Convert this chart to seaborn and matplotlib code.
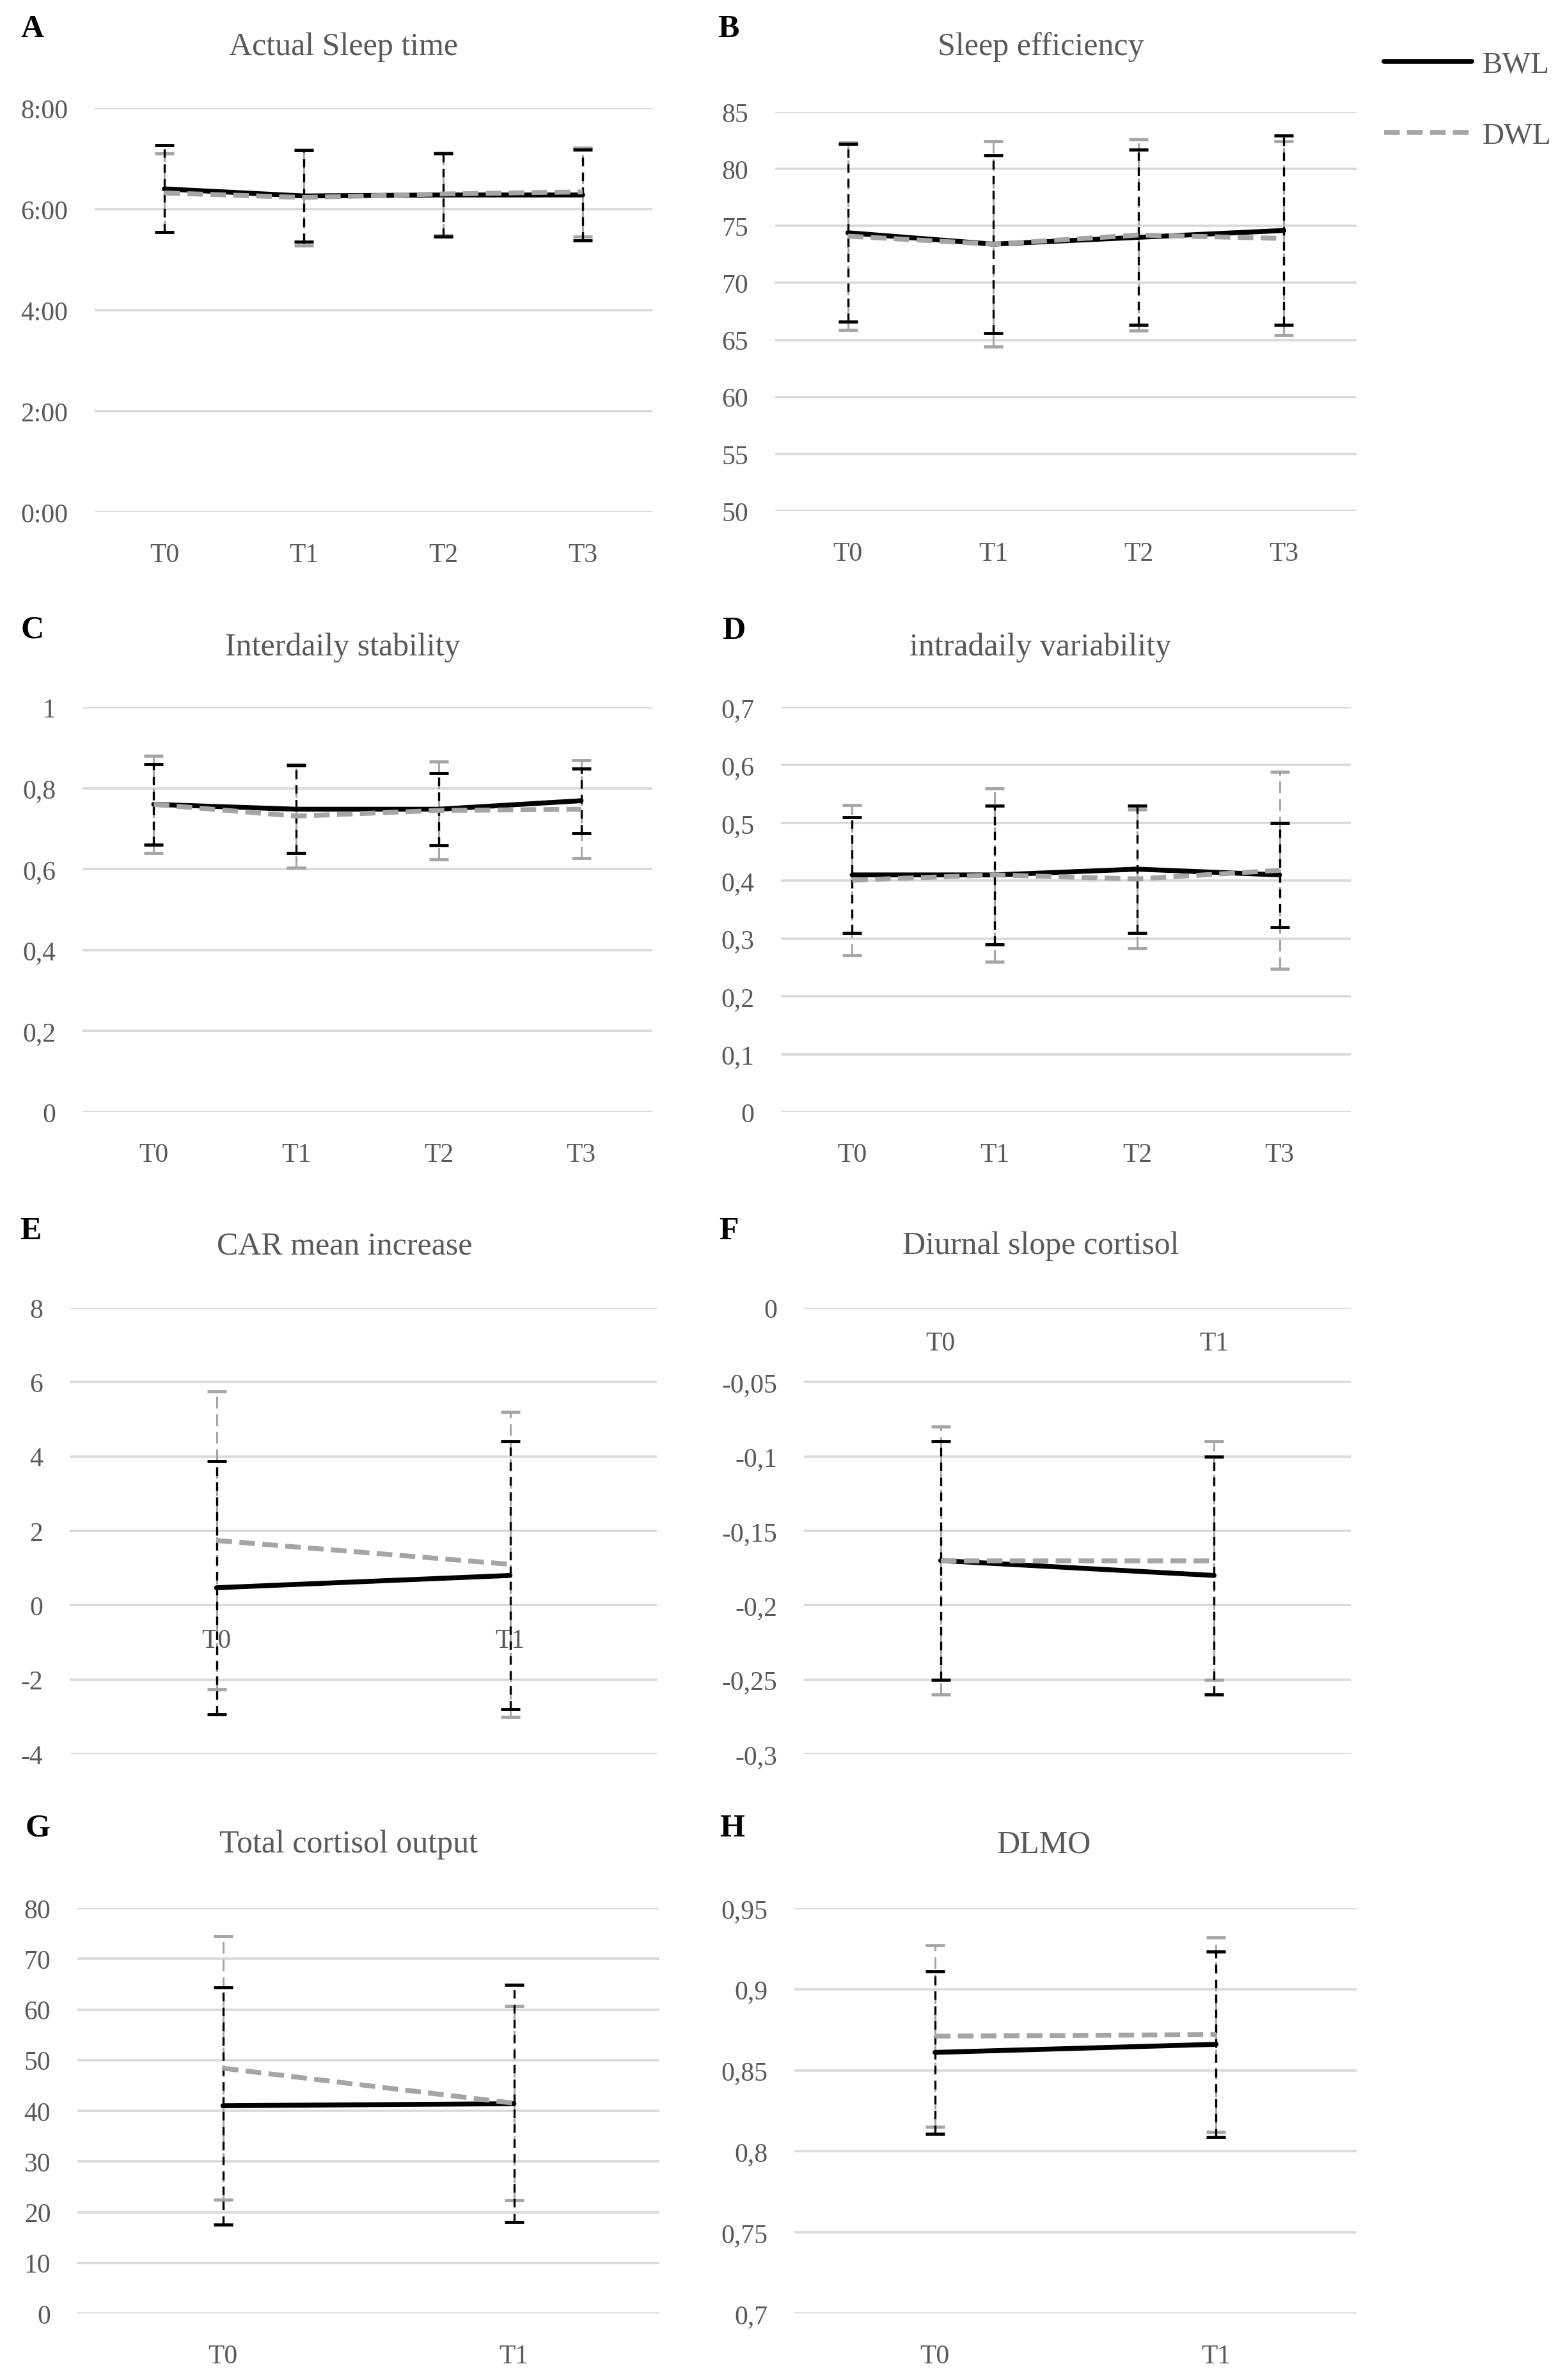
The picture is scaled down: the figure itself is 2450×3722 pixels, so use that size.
import numpy as np
import pandas as pd
import matplotlib
matplotlib.use("Agg")
import matplotlib.pyplot as plt
from matplotlib.ticker import FuncFormatter
from matplotlib.lines import Line2D
import seaborn as sns

# --- data ---
times4 = ["T0", "T1", "T2", "T3"]
times2 = ["T0", "T1"]

sleep_bwl = [6.40, 6.26, 6.28, 6.28]
sleep_bwl_sd = [0.86, 0.90, 0.82, 0.90]
sleep_dwl = [6.32, 6.23, 6.30, 6.34]
sleep_dwl_sd = [0.78, 0.95, 0.82, 0.88]

eff_bwl = [74.4, 73.4, 74.0, 74.6]
eff_bwl_sd = [7.8, 7.8, 7.7, 8.3]
eff_dwl = [74.1, 73.4, 74.2, 73.9]
eff_dwl_sd = [8.2, 9.0, 8.4, 8.5]

is_bwl = [0.760, 0.748, 0.748, 0.769]
is_bwl_sd = [0.10, 0.108, 0.09, 0.08]
is_dwl = [0.760, 0.731, 0.745, 0.748]
is_dwl_sd = [0.12, 0.128, 0.121, 0.121]

iv_bwl = [0.41, 0.41, 0.42, 0.41]
iv_bwl_sd = [0.10, 0.12, 0.11, 0.09]
iv_dwl = [0.401, 0.41, 0.403, 0.418]
iv_dwl_sd = [0.13, 0.15, 0.12, 0.17]

car_bwl = [0.47, 0.80]
car_bwl_sd = [3.4, 3.6]
car_dwl = [1.74, 1.10]
car_dwl_sd = [4.0, 4.1]

slope_bwl = [-0.170, -0.180]
slope_bwl_sd = [0.08, 0.08]
slope_dwl = [-0.170, -0.170]
slope_dwl_sd = [0.09, 0.08]

tco_bwl = [41.0, 41.4]
tco_bwl_sd = [23.4, 23.4]
tco_dwl = [48.4, 41.5]
tco_dwl_sd = [26.0, 19.2]

dlmo_bwl = [0.861, 0.866]
dlmo_bwl_sd = [0.050, 0.057]
dlmo_dwl = [0.871, 0.872]
dlmo_dwl_sd = [0.056, 0.060]

GREY = "#A5A5A5"
TXT = "#595959"
GRID = "#D9D9D9"
W, H = 2450, 3723
LW = 5.5

sns.set_theme(style="white")
plt.rcParams["font.family"] = ["Liberation Serif", "DejaVu Serif"]

fig = plt.figure(figsize=(24.5, 37.23), dpi=100)


def box(x0, x1, y0, y1):
    return [x0 / W, 1 - y1 / H, (x1 - x0) / W, (y1 - y0) / H]


def comma(v, pos=None):
    v = round(v, 4) + 0.0
    if v == 0:
        return "0"
    return f"{v:g}".replace(".", ",")


def hours(v, pos=None):
    return f"{int(round(v))}:00"


def panel(rect, times, bwl, bwl_sd, dwl, dwl_sd, ylim, yticks, fmt,
          title, letter, title_xy, letter_xy, axis_at=None):
    ax = fig.add_axes(box(*rect))
    n = len(times)
    df = pd.DataFrame({
        "t": list(range(n)) * 2,
        "value": list(bwl) + list(dwl),
        "group": ["BWL"] * n + ["DWL"] * n,
    })
    # error bars first (grey below, black dashed above)
    eb = ax.errorbar(range(n), dwl, yerr=dwl_sd, fmt="none", ecolor=GREY,
                     elinewidth=2.2, capsize=11, capthick=3.5, zorder=2)
    eb[2][0].set_linestyle((0, (6, 3)))
    eb = ax.errorbar(range(n), bwl, yerr=bwl_sd, fmt="none", ecolor="black",
                     elinewidth=2.4, capsize=11, capthick=3.5, zorder=3)
    eb[2][0].set_linestyle((0, (4, 3)))
    sns.lineplot(data=df, x="t", y="value", hue="group", style="group",
                 palette={"BWL": "black", "DWL": GREY},
                 dashes={"BWL": "", "DWL": (3.2, 1.5)},
                 linewidth=LW, legend=False, ax=ax, zorder=4)
    ax.set_xlim(-0.5, n - 0.5)
    ax.set_ylim(*ylim)
    ax.set_yticks(yticks)
    ax.yaxis.set_major_formatter(FuncFormatter(fmt))
    ax.set_xticks(range(n))
    ax.set_xticklabels(times)
    ax.set_xlabel("")
    ax.set_ylabel("")
    ax.yaxis.grid(True, color=GRID, linewidth=2.6)
    ax.set_axisbelow(True)
    for s in ax.spines.values():
        s.set_visible(False)
    if axis_at is not None:
        ax.spines["bottom"].set_position(("data", axis_at))
        ax.tick_params(axis="x", pad=26)
    else:
        ax.tick_params(axis="x", pad=34)
    ax.tick_params(axis="y", pad=30)
    ax.tick_params(length=0, labelsize=30, labelcolor=TXT)
    fig.text(title_xy[0] / W, 1 - title_xy[1] / H, title, ha="center",
             va="center", fontsize=36, color=TXT)
    fig.text(letter_xy[0] / W, 1 - letter_xy[1] / H, letter, ha="center",
             va="center", fontsize=36, fontweight="bold", color="black")
    return ax


panel((148, 1020, 170, 802), times4, sleep_bwl, sleep_bwl_sd, sleep_dwl, sleep_dwl_sd,
      (0, 8), [0, 2, 4, 6, 8], hours, "Actual Sleep time", "A", (537, 74), (51, 46))
panel((1212, 2121, 176, 800), times4, eff_bwl, eff_bwl_sd, eff_dwl, eff_dwl_sd,
      (50, 85), list(range(50, 90, 5)), comma, "Sleep efficiency", "B", (1627, 74), (1139, 46))
panel((129, 1020, 1107, 1740), times4, is_bwl, is_bwl_sd, is_dwl, is_dwl_sd,
      (0, 1), np.arange(0, 1.01, 0.2), comma, "Interdaily stability", "C", (536, 1013), (51, 985))
panel((1221, 2112, 1107, 1740), times4, iv_bwl, iv_bwl_sd, iv_dwl, iv_dwl_sd,
      (0, 0.7), np.arange(0, 0.71, 0.1), comma, "intradaily variability", "D", (1627, 1013), (1147, 987))
panel((109, 1027, 2046, 2744), times2, car_bwl, car_bwl_sd, car_dwl, car_dwl_sd,
      (-4, 8), list(range(-4, 9, 2)), comma, "CAR mean increase", "E", (539, 1949), (48, 1926), axis_at=0)
panel((1257, 2112, 2046, 2744), times2, slope_bwl, slope_bwl_sd, slope_dwl, slope_dwl_sd,
      (-0.3, 0), np.arange(-0.3, 0.001, 0.05), comma, "Diurnal slope cortisol", "F", (1627, 1949), (1139, 1926), axis_at=0)
panel((121, 1031, 2985, 3619), times2, tco_bwl, tco_bwl_sd, tco_dwl, tco_dwl_sd,
      (0, 80), list(range(0, 81, 10)), comma, "Total cortisol output", "G", (545, 2885), (59, 2860))
panel((1242, 2121, 2985, 3619), times2, dlmo_bwl, dlmo_bwl_sd, dlmo_dwl, dlmo_dwl_sd,
      (0.7, 0.95), np.arange(0.7, 0.951, 0.05), comma, "DLMO", "H", (1632, 2885), (1145, 2860))

handles = [Line2D([], [], color="black", linewidth=LW),
           Line2D([], [], color=GREY, linewidth=LW, dashes=(3.2, 1.5))]
fig.legend(handles, ["BWL", "DWL"], loc="upper left",
           bbox_to_anchor=(2164 / W, 1 - 80 / H), frameon=False,
           fontsize=34, labelcolor=TXT, handlelength=2.9, handletextpad=0.35,
           labelspacing=1.45, borderpad=0, borderaxespad=0)

fig.savefig("out.png", dpi=100, facecolor="white")
